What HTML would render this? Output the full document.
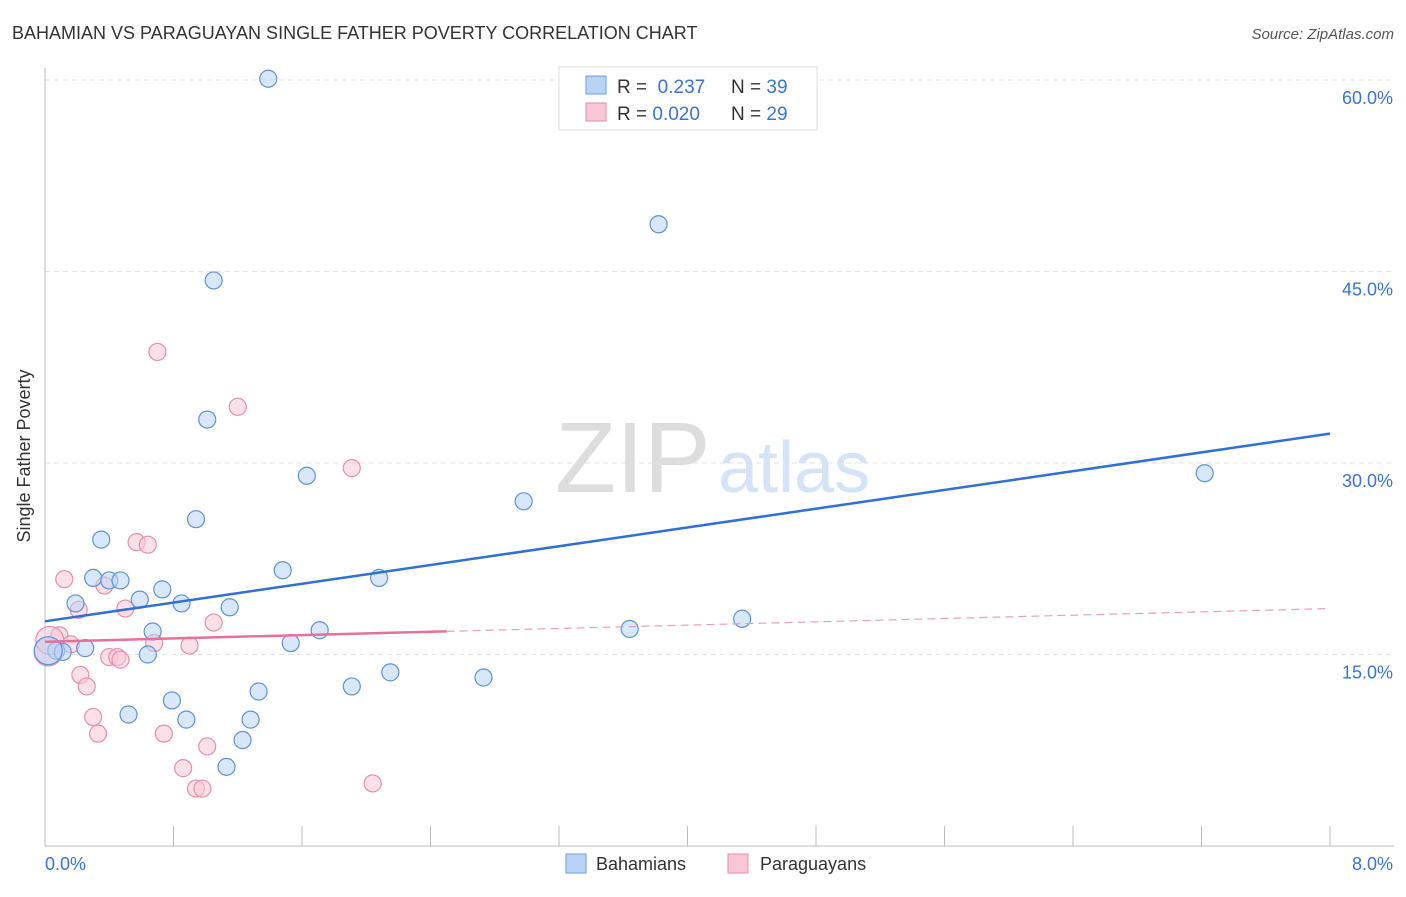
<!DOCTYPE html>
<html><head><meta charset="utf-8"><style>
body{margin:0;background:#fff;font-family:"Liberation Sans",sans-serif}
svg text{font-family:"Liberation Sans",sans-serif}
</style></head><body>
<svg width="1406" height="892" xmlns="http://www.w3.org/2000/svg">
<text x="12" y="39" font-size="18" fill="#333">BAHAMIAN VS PARAGUAYAN SINGLE FATHER POVERTY CORRELATION CHART</text>
<text x="1394" y="39" font-size="15" fill="#555" font-style="italic" text-anchor="end">Source: ZipAtlas.com</text>
<text x="30" y="456" font-size="18" fill="#333" text-anchor="middle" transform="rotate(-90 30 456)">Single Father Poverty</text>
<text x="555" y="492" font-size="100" fill="#ddd" font-family="Liberation Serif">ZIP</text>
<text x="718" y="492" font-size="72" fill="#d4e3f7">atlas</text>
<g id="grid"></g>
<g id="axes"></g>
<g id="pts"></g>
<g id="lines"></g>
<g>
<rect x="559" y="67" width="258" height="63" fill="#fff" stroke="#ddd"/>
<rect x="586" y="76" width="20" height="18" fill="#b9d3f5" stroke="#6d9de0"/>
<rect x="586" y="103" width="20" height="18" fill="#f9c6d5" stroke="#e58fab"/>
<text x="617" y="93" font-size="19" fill="#333">R = <tspan fill="#3a73d3">&#160;0.237</tspan></text>
<text x="731" y="93" font-size="19" fill="#333">N = <tspan fill="#3a73d3">39</tspan></text>
<text x="617" y="120" font-size="19" fill="#333">R = <tspan fill="#3a73d3">0.020</tspan></text>
<text x="731" y="120" font-size="19" fill="#333">N = <tspan fill="#3a73d3">29</tspan></text>
</g>
<g>
<rect x="566" y="854" width="20" height="19" fill="#b9d3f5" stroke="#6d9de0"/>
<text x="596" y="870" font-size="18" fill="#333">Bahamians</text>
<rect x="728" y="854" width="20" height="19" fill="#f9c6d5" stroke="#e58fab"/>
<text x="760" y="870" font-size="18" fill="#333">Paraguayans</text>
</g>
<text x="45" y="870" font-size="18" fill="#3a73d3">0.0%</text>
<text x="1393" y="870" font-size="18" fill="#3a73d3" text-anchor="end">8.0%</text>
</svg>
<script>
const yTicks=[15,30,45,60];
const yTickLabels=["15.0%","30.0%","45.0%","60.0%"];
const blueX=[1.39,3.82,1.05,1.01,1.63,2.98,7.22,0.94,0.35,0.30,0.40,0.47,1.48,2.08,0.73,0.59,0.85,1.15,0.19,0.67,1.71,3.64,4.34,1.53,0.25,0.64,0.07,0.11,2.15,1.91,2.73,1.33,0.79,0.52,0.88,1.28,1.23,1.13,0.02];
const blueY=[60.1,48.7,44.3,33.4,29.0,27.0,29.2,25.6,24.0,21.0,20.8,20.8,21.6,21.0,20.1,19.3,19.0,18.7,19.0,16.8,16.9,17.0,17.8,15.9,15.5,15.0,15.3,15.2,13.6,12.5,13.2,12.1,11.4,10.3,9.9,9.9,8.3,6.2,15.3];
const pinkX=[0.70,1.20,1.91,0.57,0.64,0.12,0.37,0.21,0.50,1.05,0.68,0.90,0.09,0.16,0.40,0.45,0.47,0.22,0.26,0.30,0.33,0.74,1.01,0.86,0.94,0.98,2.04,0.02,0.03];
const pinkY=[38.7,34.4,29.6,23.8,23.6,20.9,20.4,18.5,18.6,17.5,15.9,15.7,16.5,15.8,14.8,14.8,14.6,13.4,12.5,10.1,8.8,8.8,7.8,6.1,4.5,4.5,4.9,15.2,16.1];
const blueTrend=[17.6,32.3];
const pinkTrend=[16.0,18.6];
const pinkSolidEnd=2.5;
const NS="http://www.w3.org/2000/svg";
const X0=45,X1=1330,Y0=846,PX=(X1-X0)/8,PY=191.5/15;
function sx(v){return X0+v*PX}
function sy(v){return Y0-v*PY}
function mk(t,a,p){const e=document.createElementNS(NS,t);for(const k in a)e.setAttribute(k,a[k]);p.appendChild(e);return e}
const grid=document.getElementById('grid');
yTicks.forEach((t,i)=>{
 const l=mk('line',{x1:X0,x2:1394,y1:sy(t),y2:sy(t),stroke:'#e2e2e2','stroke-dasharray':'5,4'},grid);
 
 
 const tx=mk('text',{x:1393,y:sy(t)+24,'font-size':18,fill:'#3a73d3','text-anchor':'end'},grid);
 tx.textContent=yTickLabels[i];
 
 
});
const ax=document.getElementById('axes');
const ya=mk('line',{x1:X0,x2:X0,y1:68,y2:Y0,stroke:'#bbb'},ax);


const xa=mk('line',{x1:X0,x2:1394,y1:Y0,y2:Y0,stroke:'#bbb'},ax);


for(let i=0;i<=10;i++){
 const t=mk('line',{x1:sx(i*0.8),x2:sx(i*0.8),y1:Y0-20,y2:Y0,stroke:'#bbb'},ax);
 
 
}
const pts=document.getElementById('pts');
function dots(xs,ys,fill,stroke,name){
 xs.forEach((x,i)=>{
  const big=x<0.05;
  const c=mk('circle',{cx:sx(x),cy:sy(ys[i]),r:big?14:8.5,fill:fill,'fill-opacity':0.55,stroke:stroke,'stroke-width':1.2},pts);
  
  
 });
}
dots(pinkX,pinkY,'#f9c6d5','#e58fab','point-paraguayans');
dots(blueX,blueY,'#b9d3f5','#5d92dc','point-bahamians');
const ln=document.getElementById('lines');
const bl=mk('line',{x1:sx(0),y1:sy(blueTrend[0]),x2:sx(8),y2:sy(blueTrend[1]),stroke:'#2f6fd6','stroke-width':2.5},ln);


const pm=pinkTrend[0]+(pinkTrend[1]-pinkTrend[0])*pinkSolidEnd/8;
const pl=mk('line',{x1:sx(0),y1:sy(pinkTrend[0]),x2:sx(pinkSolidEnd),y2:sy(pm),stroke:'#e6709a','stroke-width':2.5},ln);


const pd=mk('line',{x1:sx(pinkSolidEnd),y1:sy(pm),x2:sx(8),y2:sy(pinkTrend[1]),stroke:'#e6a0b8','stroke-width':1.2,'stroke-dasharray':'8,5'},ln);


</script>
</body></html>
